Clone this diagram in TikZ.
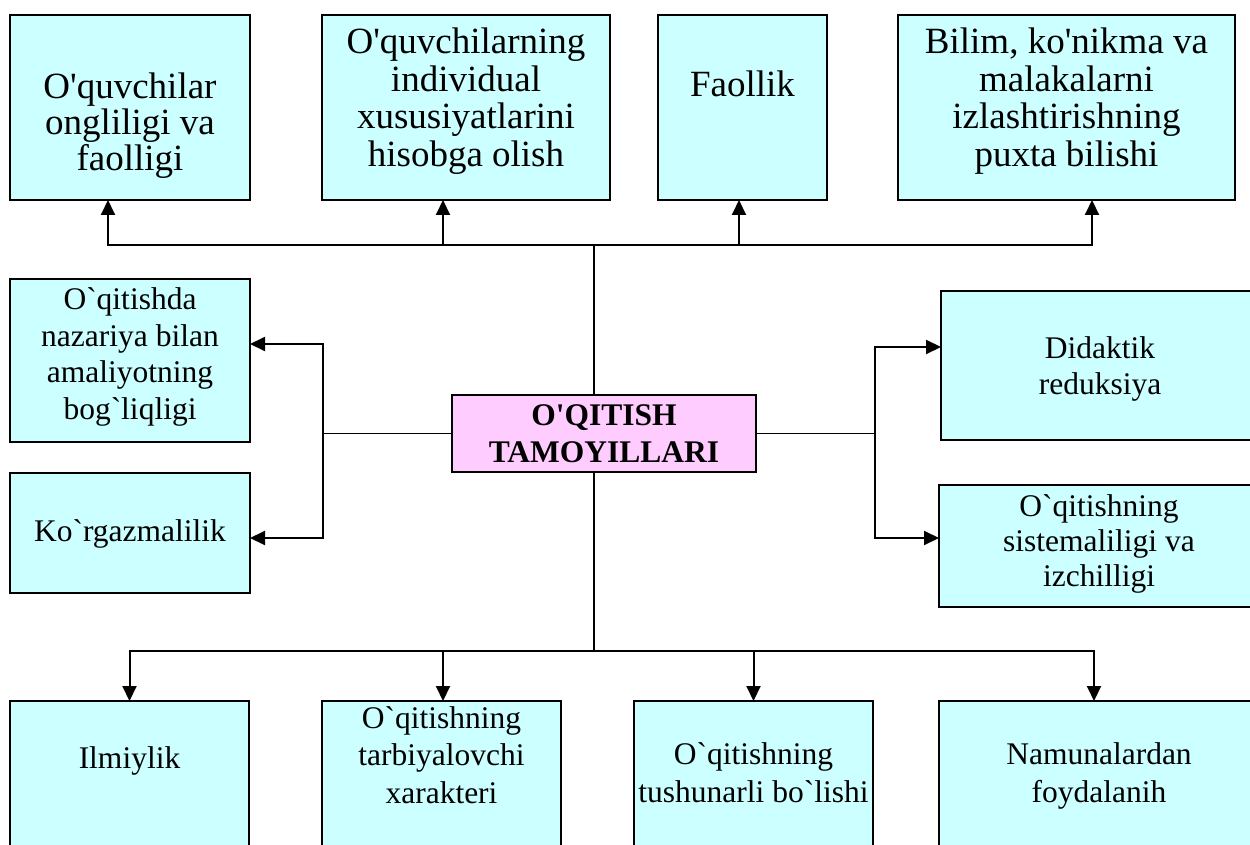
\documentclass[tikz,border=0pt]{standalone}
\usepackage{fontspec}
\setmainfont{Liberation Serif}[Ligatures=TeXOff]
\usepackage{tikz}
\usetikzlibrary{arrows.meta,positioning}
\definecolor{boxcyan}{HTML}{CCFFFF}
\definecolor{boxpink}{HTML}{FFCCFF}
\tikzset{
  box/.style={draw, line width=1.6pt, fill=boxcyan, inner sep=0pt, outer sep=0pt, anchor=north west},
  toptxt/.style={align=center, inner sep=0pt, outer sep=0pt, font=\fontsize{37}{37.5}\selectfont},
  sidetxt/.style={align=center, inner sep=0pt, outer sep=0pt, font=\fontsize{31.5}{36.5}\selectfont},
  arr/.style={-{Triangle[length=15pt,width=14pt]}, line width=2pt},
  link/.style={line width=1.5pt}
}
\begin{document}
\begin{tikzpicture}[x=1pt,y=-1pt]
\useasboundingbox (0,0) rectangle (1250,845);
\clip (0,0) rectangle (1250,845);

\node (t1) at (10,15) [box, minimum width=240pt, minimum height=185pt] {};
\node (t2) at (322,15) [box, minimum width=288pt, minimum height=185pt] {};
\node (t3) at (658,15) [box, minimum width=169pt, minimum height=185pt] {};
\node (t4) at (898,15) [box, minimum width=337pt, minimum height=185pt] {};
\node (l1) at (10,279) [box, minimum width=240pt, minimum height=163pt] {};
\node (l2) at (10,473) [box, minimum width=240pt, minimum height=120pt] {};
\node (r1) at (941,291) [box, minimum width=318pt, minimum height=149pt] {};
\node (r2) at (939,485) [box, minimum width=320pt, minimum height=122pt] {};
\node (b1) at (10,701) [box, minimum width=239pt, minimum height=160pt] {};
\node (b2) at (322,701) [box, minimum width=239pt, minimum height=160pt] {};
\node (b3) at (634,701) [box, minimum width=239pt, minimum height=160pt] {};
\node (b4) at (939,701) [box, minimum width=320pt, minimum height=160pt] {};
\node (main) at (452,395) [box, fill=boxpink, minimum width=304pt, minimum height=77pt,
  align=center, font=\fontsize{31.5}{36.7}\selectfont\bfseries] {O'QITISH\\TAMOYILLARI};

\node (t1txt) [toptxt, font=\fontsize{37}{36}\selectfont, below=58pt of t1.north] {O'quvchilar\\ongliligi va\\faolligi};
\node (t2txt) [toptxt, below=13pt of t2.north] {O'quvchilarning\\individual\\xususiyatlarini\\hisobga olish};
\node (t3txt) [toptxt, below=56pt of t3.north] {Faollik};
\node (t4txt) [toptxt, below=13pt of t4.north] {Bilim, ko'nikma va\\malakalarni\\izlashtirishning\\puxta bilishi};
\node (l1txt) [sidetxt, below=9pt of l1.north] {O`qitishda\\nazariya bilan\\amaliyotning\\bog`liqligi};
\node (l2txt) [sidetxt, below=47pt of l2.north] {Ko`rgazmalilik};
\node (r1txt) [sidetxt, below=45.5pt of r1.north] {Didaktik\\reduksiya};
\node (r2txt) [sidetxt, font=\fontsize{31.5}{35}\selectfont, below=10pt of r2.north] {O`qitishning\\sistemaliligi va\\izchilligi};
\node (b1txt) [sidetxt, below=45.5pt of b1.north] {Ilmiylik};
\node (b2txt) [sidetxt, font=\fontsize{31.5}{37.5}\selectfont, below=5.5pt of b2.north] {O`qitishning\\tarbiyalovchi\\xarakteri};
\node (b3txt) [sidetxt, font=\fontsize{31.5}{38}\selectfont, below=42pt of b3.north] {O`qitishning\\tushunarli bo`lishi};
\node (b4txt) [sidetxt, font=\fontsize{31.5}{38}\selectfont, below=42pt of b4.north] {Namunalardan\\foydalanih};

\coordinate (tj) at (594,245);
\coordinate (lj) at (323,433.5);
\coordinate (rj) at (875,433.5);
\coordinate (bj) at (594,651);

\draw[link] (main.north -| tj) -- (tj);
\draw[arr] (tj) -| ([xshift=-22pt]t1.south);
\draw[arr] (tj) -| ([xshift=-23pt]t2.south);
\draw[arr] (tj) -| ([xshift=-3.5pt]t3.south);
\draw[arr] (tj) -| ([xshift=25.5pt]t4.south);

\draw[link] (main.west) -- (lj);
\draw[arr] (lj) |- ([yshift=16.5pt]l1.east);
\draw[arr] (lj) |- ([yshift=-5pt]l2.east);

\draw[link] (main.east) -- (rj);
\draw[arr] (rj) |- ([yshift=18.5pt]r1.west);
\draw[arr] (rj) |- ([yshift=8pt]r2.west);

\draw[link] (main.south -| bj) -- (bj);
\draw[arr] (bj) -| (b1.north);
\draw[arr] (bj) -| ([xshift=1.5pt]b2.north);
\draw[arr] (bj) -| (b3.north);
\draw[arr] (bj) -| ([xshift=-5pt]b4.north);
\end{tikzpicture}
\end{document}
